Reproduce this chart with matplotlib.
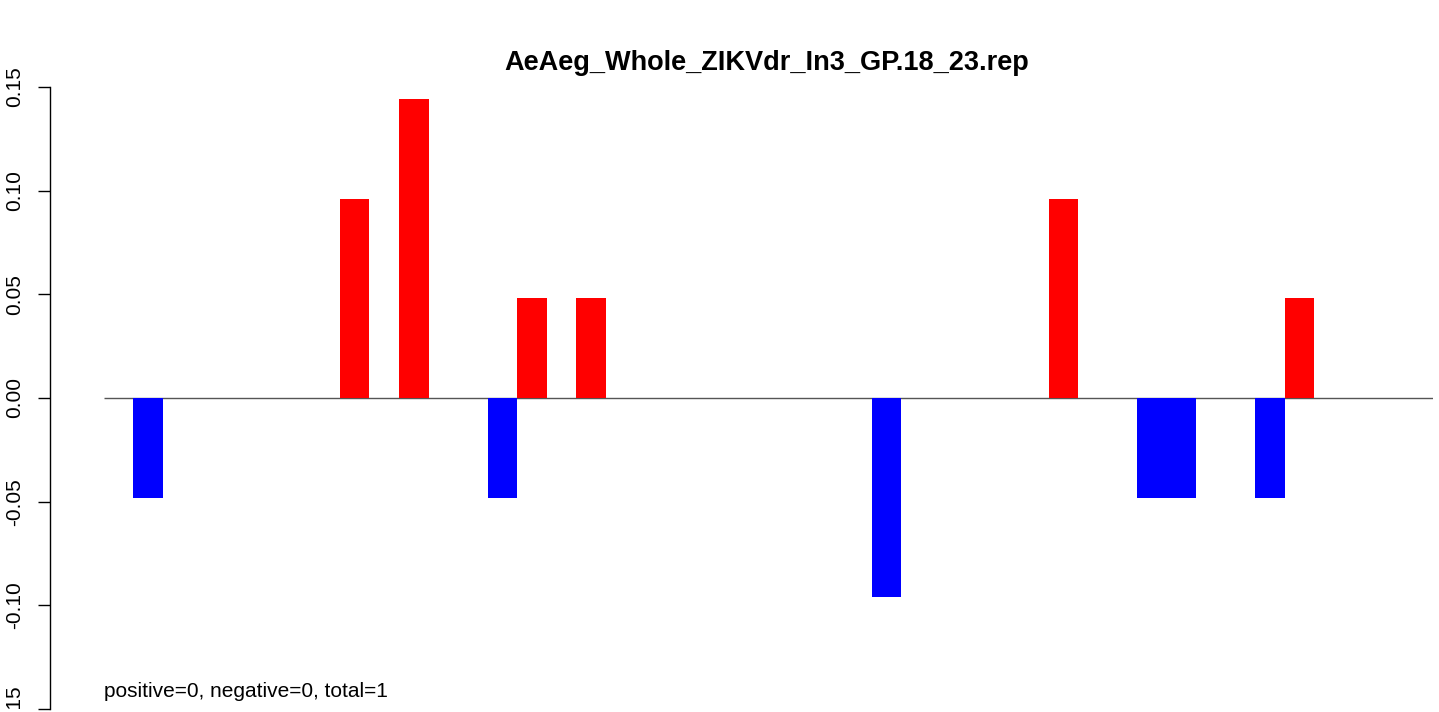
import matplotlib
matplotlib.use("Agg")
import matplotlib.pyplot as plt
import numpy as np

plt.rcParams["font.family"] = ["Liberation Sans", "DejaVu Sans"]

title = "AeAeg_Whole_ZIKVdr_In3_GP.18_23.rep"
summary = "positive=0, negative=0, total=1"

# one value per position along the sequence (45 slots)
slot_values = [
    0.0, -0.048, 0.0, 0.0, 0.0, 0.0, 0.0, 0.0, 0.096, 0.0,
    0.144, 0.0, 0.0, -0.048, 0.048, 0.0, 0.048, 0.0, 0.0, 0.0,
    0.0, 0.0, 0.0, 0.0, 0.0, 0.0, -0.096, 0.0, 0.0, 0.0,
    0.0, 0.0, 0.096, 0.0, 0.0, -0.048, -0.048, 0.0, 0.0, -0.048,
    0.048, 0.0, 0.0, 0.0, 0.0,
]
y_ticks = [-0.15, -0.10, -0.05, 0.00, 0.05, 0.10, 0.15]
y_tick_labels = ["-0.15", "-0.10", "-0.05", "0.00", "0.05", "0.10", "0.15"]

W, H, DPI = 1439, 712, 100
fig = plt.figure(figsize=(W / DPI, H / DPI), dpi=DPI)
ax = fig.add_axes([103.7 / W, 3 / H, (1432.6 - 103.7) / W, (709 - 87) / H])

vals = np.array(slot_values)
idx = np.arange(len(vals))
colors = np.where(vals >= 0, "#ff0000", "#0000ff")
ax.hlines(0, -0.5, len(vals) - 0.5, color="#555555", lw=1.0, zorder=1)
ax.bar(idx, vals, width=1.0, color=colors, linewidth=0, zorder=2)

ax.set_xlim(-0.5, len(vals) - 0.5)
ax.set_ylim(-0.15, 0.15)

for s in ["top", "right", "bottom"]:
    ax.spines[s].set_visible(False)
ax.spines["left"].set_position(("outward", 53.7 * 72 / DPI))
ax.spines["left"].set_bounds(-0.15, 0.15)
ax.spines["left"].set_linewidth(1.0)
ax.set_xticks([])
ax.set_yticks(y_ticks)
ax.set_yticklabels(y_tick_labels, rotation=90, va="center", fontsize=15)
ax.tick_params(axis="y", length=8.6, width=1.0, pad=10)

ax.set_title(title, fontsize=19.5, fontweight="bold", pad=12, x=(767 - 103.7) / (1432.6 - 103.7))
ax.text(-0.5, -0.1442, summary, fontsize=15, va="baseline", ha="left")

fig.savefig("out.png", dpi=DPI)
